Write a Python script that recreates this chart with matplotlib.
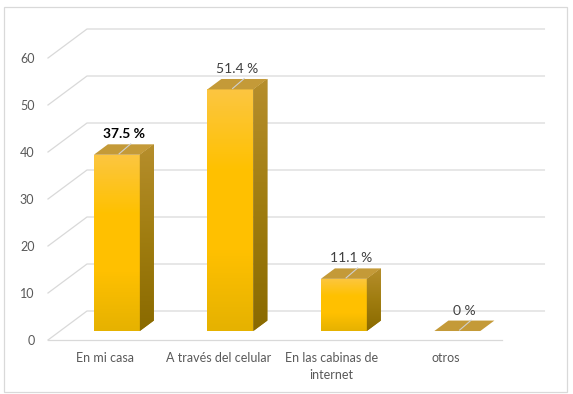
import numpy as np
import matplotlib
matplotlib.use('Agg')
import matplotlib.pyplot as plt
from matplotlib.patches import Polygon, Rectangle
from matplotlib.colors import LinearSegmentedColormap

plt.rcParams['font.family'] = ['Lato', 'DejaVu Sans']

categorias = ['En mi casa', 'A través del celular', 'En las cabinas de\ninternet', 'otros']
valores = [37.5, 51.4, 11.1, 0]
etiquetas = ['37.5 %', '51.4 %', '11.1 %', '0 %']
yticks = [0, 10, 20, 30, 40, 50, 60]

# pixel layout of the plot box
W, H = 573, 394
L, R, T, B = 40, 560, 20, 345
PX0, PXC = 48, 113.5      # floor front-left pixel, pixels per category
PY0, PYU = 340, 4.7       # floor front pixel, pixels per unit

# oblique depth (full floor depth) in data units
DX = 39 / PXC
DY = 29 / PYU
d0, d1 = 0.31, 0.67       # bar front / back depth
ancho = 0.405

fig = plt.figure(figsize=(W / 100, H / 100), dpi=100)
ax = fig.add_axes([L / W, (H - B) / H, (R - L) / W, (B - T) / H])
xlim = ((L - PX0) / PXC - 0.5, (R - PX0) / PXC - 0.5)
ylim = ((PY0 - B) / PYU, (PY0 - T) / PYU)


def proj(x, y, d):
    return x + d * DX, y + d * DY


gris = '#d9d9d9'
n = len(categorias)
x0, x1 = -0.5, n - 0.5
# back wall + left wall gridlines
for v in yticks:
    a = proj(x0, v, 0)
    b = proj(x0, v, 1)
    c = proj(x1 + 0.03, v, 1)
    ax.plot([a[0], b[0], c[0]], [a[1], b[1], c[1]], color=gris, lw=0.9, zorder=1)
# floor front edge
ax.plot([x0, x1], [0, 0], color=gris, lw=0.9, zorder=1)

cm_frente = LinearSegmentedColormap.from_list('f', ['#E6B200', '#FFC000', '#FFC100', '#FCC640'])
cm_lado = LinearSegmentedColormap.from_list('l', ['#8A6A00', '#A07D10', '#B68E2C'])
grad = np.linspace(0, 1, 100).reshape(-1, 1)

base = d0 * DY
dd = d1 - d0
xc = np.arange(n) + d0 * DX
barras = ax.bar(xc, valores, width=ancho, bottom=base, color='#FFC000', lw=0, zorder=3)

for i, (rect, v) in enumerate(zip(barras, valores)):
    xl = xc[i] - ancho / 2
    xr = xc[i] + ancho / 2
    top = base + v
    if v > 0:
        im = ax.imshow(grad, extent=[xl, xr, base, top], origin='lower', cmap=cm_frente,
                       aspect='auto', zorder=3)
        im.set_clip_path(rect)
        lado = Polygon([(xr, base), (xr, top), (xr + dd * DX, top + dd * DY),
                        (xr + dd * DX, base + dd * DY)], closed=True, fc='#A07D10', lw=0, zorder=3)
        ax.add_patch(lado)
        im2 = ax.imshow(grad, extent=[xr, xr + dd * DX, base, top + dd * DY], origin='lower',
                        cmap=cm_lado, aspect='auto', zorder=3)
        im2.set_clip_path(lado)
    tapa = Polygon([(xl, top), (xr, top), (xr + dd * DX, top + dd * DY),
                    (xl + dd * DX, top + dd * DY)], closed=True, fc='#C49A38', lw=0, zorder=4)
    ax.add_patch(tapa)
    # leader line
    cx, cy = xc[i] + dd * DX * 0.5, top + dd * DY * 0.5
    ax.plot([xc[i] + 0.02, cx + 0.06], [top + 0.2, cy + 1.2], color='#d0d0d0', lw=0.8, zorder=5)
    ax.annotate(etiquetas[i], (cx, cy), xytext=(0, 11), textcoords='offset points',
                ha='center', va='center', fontsize=10,
                fontweight='bold' if i == 0 else 'normal',
                color='#000000' if i == 0 else '#404040', zorder=6)

ax.set_xlim(*xlim)
ax.set_ylim(*ylim)
ax.set_yticks(yticks)
ax.set_xticks(range(n))
ax.set_xticklabels(categorias, linespacing=1.5)
ax.tick_params(axis='both', length=0, labelsize=9, colors='#595959')
ax.tick_params(axis='y', pad=4)
ax.tick_params(axis='x', pad=5)
for s in ax.spines.values():
    s.set_visible(False)
ax.patch.set_alpha(0)

fig.add_artist(Rectangle((4 / W, 2 / H), 563 / W, 385 / H, transform=fig.transFigure,
                         fill=False, ec='#d9d9d9', lw=0.9))

fig.savefig('out.png', dpi=100)
